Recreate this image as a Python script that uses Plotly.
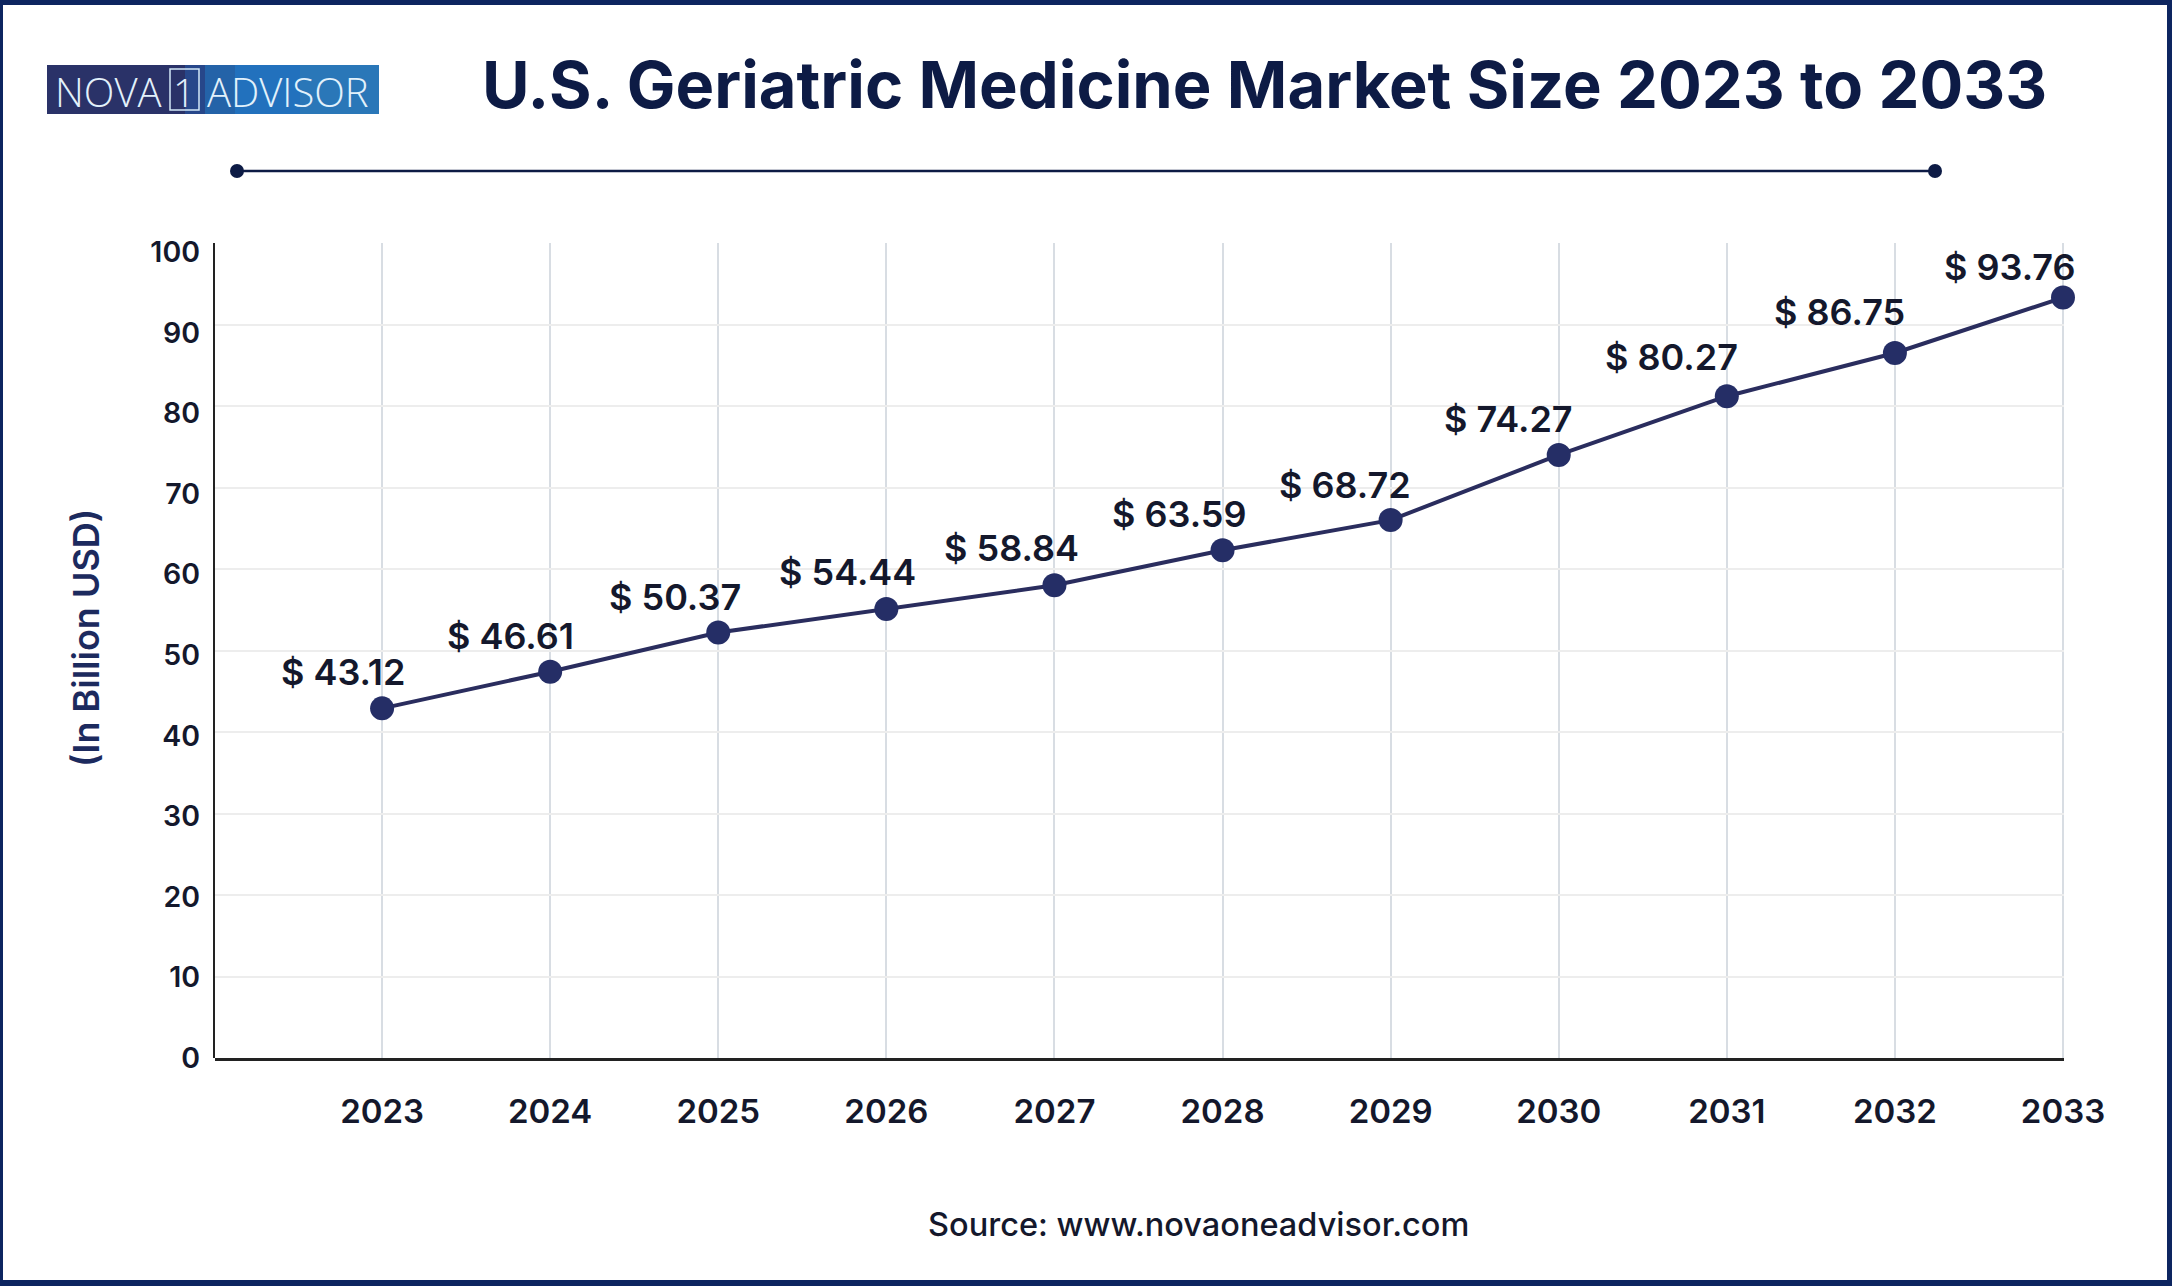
import plotly.graph_objects as go

W = 2172
H = 1286
NAVY = '#0d1b45'
FONT = 'Inter'

years = [2023, 2024, 2025, 2026, 2027, 2028, 2029, 2030, 2031, 2032, 2033]
# heights of the drawn markers, they sit a bit off from the printed labels in the picture
market_size = [42.9, 47.4, 52.2, 55.1, 58.0, 62.3, 66.0, 74.0, 81.2, 86.5, 93.3]
value_labels = ['$ 43.12', '$ 46.61', '$ 50.37', '$ 54.44', '$ 58.84', '$ 63.59',
                '$ 68.72', '$ 74.27', '$ 80.27', '$ 86.75', '$ 93.76']
y_ticks = [0, 10, 20, 30, 40, 50, 60, 70, 80, 90, 100]

# label placement relative to each marker, in pixels
label_dx = [-39, -40, -43, -39, -43, -44, -46, -50, -55, -55, -53]
label_dy = [36, 36, 36, 37, 37, 36, 35, 36, 39, 41, 31]

logo_steps = [(47, 185, '#2a3268'), (185, 205, '#27478a'), (205, 235, '#2463a8'),
              (235, 300, '#2271bd'), (300, 379, '#2a77b8')]


def px_x(x):
    return x / W


def px_y(y):
    return 1 - y / H


def page_rect(x0, y0, x1, y1, color, line=None):
    return dict(type='rect', xref='paper', yref='paper', layer='above',
                x0=px_x(x0), x1=px_x(x1), y0=px_y(y0), y1=px_y(y1),
                fillcolor=color, line=dict(color=line or color, width=1 if line else 0))


def page_text(x, y, text, size, color, weight=400, angle=0, family=FONT):
    return dict(xref='paper', yref='paper', x=px_x(x), y=px_y(y), text=text,
                showarrow=False, textangle=angle, xanchor='center', yanchor='middle',
                font=dict(family=family, size=size, color=color, weight=weight))


fig = go.Figure()
# y tick labels in the picture run on a slightly tighter scale than the gridlines,
# so they get their own axis with an empty trace to keep it drawn
fig.add_trace(go.Scatter(x=years, y=market_size, mode='markers',
                         marker=dict(opacity=0), hoverinfo='skip', showlegend=False))
fig.add_trace(go.Scatter(
    x=years,
    y=market_size,
    yaxis='y2',
    mode='lines+markers',
    line=dict(color='#2a2d5e', width=4),
    marker=dict(color='#252e66', size=24),
    cliponaxis=False,
    showlegend=False,
))

shapes = [
    # frame
    page_rect(0, 0, W, 5, '#0d2560'),
    page_rect(0, H - 6, W, H, '#0d2560'),
    page_rect(0, 0, 3, H, '#0d2560'),
    page_rect(W - 5, 0, W, H, '#0d2560'),
    # divider under the title
    dict(type='line', xref='paper', yref='paper', x0=px_x(237), x1=px_x(1935), y0=px_y(171), y1=px_y(171),
         line=dict(color=NAVY, width=2.5)),
    page_rect(230, 164, 244, 178, NAVY) | dict(type='circle'),
    page_rect(1928, 164, 1942, 178, NAVY) | dict(type='circle'),
]
for x0, x1, color in logo_steps:
    shapes.append(page_rect(x0, 65, x1, 114, color))
shapes.append(dict(type='rect', xref='paper', yref='paper', x0=px_x(170), x1=px_x(199), y0=px_y(69), y1=px_y(110),
                   line=dict(color='#d3e9f8', width=1.5)))

annotations = [
    page_text(1264, 84, 'U.S. Geriatric Medicine Market Size 2023 to 2033', 65, NAVY, 700),
    page_text(86, 638, '(In Billion USD)', 36, '#1c2a5e', 600, -90),
    page_text(1198, 1224, 'Source: www.novaoneadvisor.com', 32.5, '#14182c', 500),
    page_text(108, 91, 'NOVA', 40, '#e2f1fb', 300, family='Open Sans'),
    page_text(184, 91, '1', 39, '#e2f1fb', 300, family='Open Sans'),
    page_text(288, 91, 'ADVISOR', 40, '#e2f1fb', 300, family='Open Sans'),
]
for year, value, label, dx, dy in zip(years, market_size, value_labels, label_dx, label_dy):
    annotations.append(dict(x=year, y=value, xref='x', yref='y2', text=label, showarrow=False, xshift=dx, yshift=dy,
                            font=dict(family=FONT, size=36, color='#14182c', weight=600)))

fig.update_layout(
    width=W,
    height=H,
    margin=dict(l=0, r=0, t=0, b=0, pad=0),
    paper_bgcolor='white',
    plot_bgcolor='rgba(0,0,0,0)',
    font=dict(family=FONT, color='#14182c'),
    shapes=shapes,
    annotations=annotations,
    xaxis=dict(
        domain=[px_x(215), px_x(2064)],
        range=[2022.006, 2033.006],
        automargin=False,
        tickmode='array',
        tickvals=years,
        ticktext=[str(y) for y in years],
        showgrid=True,
        gridcolor='#d8dde3',
        gridwidth=2,
        zeroline=False,
        showline=True,
        linecolor='#222222',
        linewidth=3,
        ticks='',
        ticklabelstandoff=22,
        tickfont=dict(family=FONT, size=33, color='#14182c', weight=600),
    ),
    yaxis=dict(
        domain=[px_y(1058), px_y(252)],
        range=[0, 100],
        automargin=False,
        tickmode='array',
        tickvals=y_ticks,
        showgrid=False,
        zeroline=False,
        showline=False,
        ticks='',
        ticklabelstandoff=14,
        tickfont=dict(family=FONT, size=28.5, color='#14182c', weight=600),
    ),
    yaxis2=dict(
        domain=[px_y(1058), px_y(243)],
        range=[0, 100],
        automargin=False,
        anchor='x',
        side='left',
        tickmode='array',
        tickvals=y_ticks,
        showticklabels=False,
        showgrid=True,
        gridcolor='#ededed',
        gridwidth=2,
        zeroline=False,
        showline=True,
        linecolor='#222222',
        linewidth=2,
        ticks='',
    ),
)

fig.write_html("out.html", config={'displayModeBar': False}, post_script="document.body.style.margin='0'")
